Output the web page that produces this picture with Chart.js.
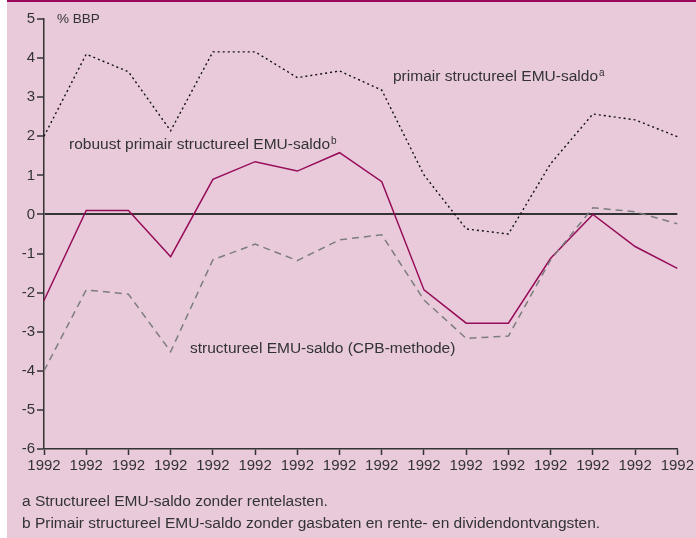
<!DOCTYPE html>
<html>
<head>
<meta charset="utf-8">
<script src="https://cdn.jsdelivr.net/npm/chart.js@4.4.1/dist/chart.umd.min.js"></script>
<style>
  html, body { margin: 0; padding: 0; background: #fff; }
  #wrap { width: 696px; height: 538px; position: relative; }
</style>
</head>
<body>
<div id="wrap"><canvas id="grafiek" width="696" height="538"></canvas></div>
<script>
// jaren (alle labels staan in het origineel als 1992)
const jaren = ['1992','1992','1992','1992','1992','1992','1992','1992',
               '1992','1992','1992','1992','1992','1992','1992','1992'];

// primair structureel EMU-saldo (a)
const primair = [2.0, 4.1, 3.65, 2.14, 4.16, 4.16, 3.5, 3.67, 3.18, 1.01, -0.37, -0.5, 1.3, 2.57, 2.42, 1.99];

// robuust primair structureel EMU-saldo (b)
const robuust = [-2.2, 0.1, 0.1, -1.08, 0.9, 1.35, 1.11, 1.58, 0.84, -1.93, -2.78, -2.78, -1.12, 0.0, -0.82, -1.38];

// structureel EMU-saldo (CPB-methode)
const structureel = [-4.0, -1.93, -2.04, -3.51, -1.16, -0.76, -1.18, -0.65, -0.52, -2.19, -3.17, -3.11, -1.16, 0.17, 0.07, -0.24];

const yTicks = [-6, -5, -4, -3, -2, -1, 0, 1, 2, 3, 4, 5];

const tekstKleur = '#333333';
const lettertype = '"Liberation Sans", Arial, sans-serif';

// achtergrond, teksten in de grafiek en voetnoten
const decoratie = {
    id: 'decoratie',
    beforeDraw(chart) {
        const c = chart.ctx;
        c.save();
        c.fillStyle = '#e8cadb';
        c.fillRect(7, 0, chart.width - 7, chart.height);
        c.fillStyle = '#9b0a5a';
        c.fillRect(7, 0, chart.width - 7, 2);
        c.restore();
    },
    afterDraw(chart) {
        const c = chart.ctx;
        c.save();
        c.fillStyle = tekstKleur;
        c.textBaseline = 'middle';
        c.font = '13.5px ' + lettertype;
        c.fillText('% BBP', 57, 19);

        function metSup(tekst, sup, x, y) {
            c.font = '15.5px ' + lettertype;
            c.fillText(tekst, x, y);
            const w = c.measureText(tekst).width;
            c.font = '10px ' + lettertype;
            c.fillText(sup, x + w + 1, y - 4);
        }
        metSup('primair structureel EMU-saldo', 'a', 393, 77);
        metSup('robuust primair structureel EMU-saldo', 'b', 69, 145);
        c.font = '15.5px ' + lettertype;
        c.fillText('structureel EMU-saldo (CPB-methode)', 190, 349);

        c.font = '15.5px ' + lettertype;
        c.fillText('a Structureel EMU-saldo zonder rentelasten.', 22, 502);
        c.fillText('b Primair structureel EMU-saldo zonder gasbaten en rente- en dividendontvangsten.', 22, 524);
        c.restore();
    }
};

const ctx = document.getElementById('grafiek').getContext('2d');
new Chart(ctx, {
    type: 'line',
    data: {
        labels: jaren,
        datasets: [{
            label: 'primair structureel EMU-saldo',
            data: primair,
            borderColor: '#111111',
            borderWidth: 1.4,
            borderDash: [2, 3],
            pointRadius: 0,
            tension: 0
        }, {
            label: 'structureel EMU-saldo (CPB-methode)',
            data: structureel,
            borderColor: '#7d7d7d',
            borderWidth: 1.5,
            borderDash: [7, 5],
            pointRadius: 0,
            tension: 0
        }, {
            label: 'robuust primair structureel EMU-saldo',
            data: robuust,
            borderColor: '#960c58',
            borderWidth: 1.5,
            pointRadius: 0,
            tension: 0
        }]
    },
    options: {
        responsive: false,
        animation: false,
        layout: { padding: { top: 19, right: 18, left: 0, bottom: 0 } },
        plugins: {
            legend: { display: false },
            tooltip: { enabled: false }
        },
        scales: {
            x: {
                offset: false,
                afterFit(scale) { scale.height = 89; },
                grid: {
                    drawOnChartArea: false,
                    tickLength: 6,
                    tickColor: '#333333',
                    tickWidth: 1.5
                },
                border: { color: '#333333', width: 1.5 },
                ticks: {
                    autoSkip: false,
                    maxRotation: 0,
                    padding: 2,
                    color: tekstKleur,
                    font: { family: lettertype, size: 15 }
                }
            },
            y: {
                min: -6,
                max: 5,
                afterFit(scale) { scale.width = 44; },
                afterBuildTicks(scale) { scale.ticks = yTicks.map(v => ({ value: v })); },
                grid: {
                    color: c => c.tick && c.tick.value === 0 ? '#333333' : 'rgba(0,0,0,0)',
                    lineWidth: c => c.tick && c.tick.value === 0 ? 2 : 0,
                    tickLength: 7,
                    tickColor: '#333333',
                    tickWidth: 1.5
                },
                border: { color: '#333333', width: 1.5 },
                ticks: {
                    padding: 2,
                    color: tekstKleur,
                    font: { family: lettertype, size: 15 }
                }
            }
        }
    },
    plugins: [decoratie]
});
</script>
</body>
</html>
